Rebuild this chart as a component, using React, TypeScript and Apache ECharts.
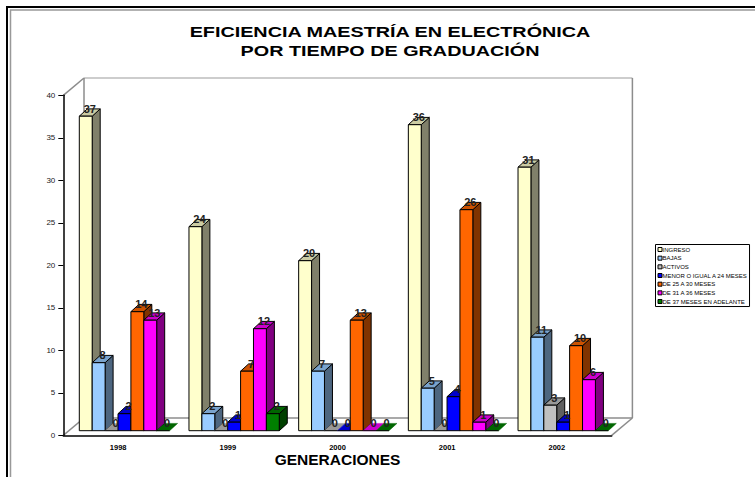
import React, { useEffect, useRef } from "react";
import * as echarts from "echarts";

const titleLines = ["EFICIENCIA MAESTRÍA EN ELECTRÓNICA", "POR TIEMPO DE GRADUACIÓN"];
const generations = ["1998", "1999", "2000", "2001", "2002"];
const seriesNames = [
  "INGRESO",
  "BAJAS",
  "ACTIVOS",
  "MENOR O IGUAL A 24 MESES",
  "DE 25 A 30 MESES",
  "DE 31 A 36 MESES",
  "DE 37 MESES EN ADELANTE",
];
const ingreso = [37, 24, 20, 36, 31];
const bajas = [8, 2, 7, 5, 11];
const activos = [0, 0, 0, 0, 3];
const menor24 = [2, 1, 0, 4, 1];
const de25a30 = [14, 7, 13, 26, 10];
const de31a36 = [13, 12, 0, 1, 6];
const de37 = [0, 2, 0, 0, 0];
const seriesValues = [ingreso, bajas, activos, menor24, de25a30, de31a36, de37];
const yTicks = { min: 0, max: 40, interval: 5 };

const frontColors = ["#FFFFCC", "#99CCFF", "#C0C0C0", "#0000FF", "#FF6600", "#FF00FF", "#008000"];
const sideColors = ["#80806A", "#4D6680", "#606060", "#000080", "#803300", "#800080", "#004000"];
const topColors = ["#CCCCA3", "#7AA3CC", "#999999", "#0000CC", "#CC5200", "#CC00CC", "#006600"];

const FONT = '"Liberation Sans", Arial, sans-serif';
const BAR_W = 12.9;
const BAR_DX = 8;
const BAR_DY = 7.3;
const FLOOR_SHIFT = 4.6;
const GROUP_OFFSET = 16;

const grid = { left: 63.3, top: 95.3, width: 548.4, height: 340 };
const wallDx = 20.7;
const wallDy = 17.3;

export default function App() {
  const ref = useRef<HTMLDivElement>(null);
  useEffect(() => {
    const chart = echarts.init(ref.current!, null, { renderer: "svg" });
    const gl = grid.left;
    const gt = grid.top;
    const gr = gl + grid.width;
    const gb = gt + grid.height;
    const wallLine = (shape: any, stroke = "#8c8c8c") => ({
      type: "line",
      z: 0,
      shape,
      style: { stroke, lineWidth: 1.5 },
      silent: true,
    });
    const titleText = (text: string, y: number) => ({
      type: "text",
      z: 5,
      x: 390,
      y,
      scaleX: 1.32,
      style: {
        text,
        align: "center",
        verticalAlign: "middle",
        fontFamily: FONT,
        fontSize: 15,
        fontWeight: "bold",
        fill: "#000",
      },
      silent: true,
    });
    chart.setOption({
      animation: false,
      backgroundColor: "#fff",
      legend: {
        data: seriesNames,
        orient: "vertical",
        left: 655.5,
        top: 244.5,
        padding: [2, 2, 2, 2],
        itemWidth: 4,
        itemHeight: 4,
        itemGap: 2.67,
        icon: "rect",
        borderColor: "#000",
        borderWidth: 1,
        backgroundColor: "#fff",
        itemStyle: { borderColor: "#000", borderWidth: 1 },
        textStyle: { fontFamily: FONT, fontSize: 6, color: "#000", padding: [0, 0, 0, -4.5] },
      },
      grid: { ...grid, containLabel: false, outerBoundsMode: "none" },
      xAxis: {
        type: "category",
        data: generations,
        name: "GENERACIONES",
        nameLocation: "middle",
        nameGap: 16,
        nameMoveOverlap: false,
        nameTextStyle: { fontFamily: FONT, fontSize: 15.5, fontWeight: "bold", color: "#000" },
        axisLine: { lineStyle: { color: "#000", width: 1.5 } },
        axisTick: { length: 5, lineStyle: { color: "#000", width: 1 } },
        axisLabel: { fontFamily: FONT, fontSize: 7.5, fontWeight: "bold", color: "#000", margin: 8 },
      },
      yAxis: {
        type: "value",
        min: yTicks.min,
        max: yTicks.max,
        interval: yTicks.interval,
        splitLine: { show: false },
        axisLine: { show: true, lineStyle: { color: "#000", width: 1.5 } },
        axisTick: { show: true, length: 5, lineStyle: { color: "#000", width: 1 } },
        axisLabel: { fontFamily: FONT, fontSize: 8, color: "#222", margin: 8 },
      },
      graphic: [
        { type: "rect", z: 0, shape: { x: 7, y: 7, width: 800, height: 500 }, style: { fill: "none", stroke: "#000", lineWidth: 2 }, silent: true },
        { type: "rect", z: 0, shape: { x: 10.5, y: 10, width: 800, height: 500 }, style: { fill: "none", stroke: "#999", lineWidth: 1.5 }, silent: true },
        wallLine({ x1: gl + wallDx, y1: gt - wallDy, x2: gr + wallDx, y2: gt - wallDy }, "#bdbdbd"),
        wallLine({ x1: gl + wallDx, y1: gt - wallDy, x2: gl + wallDx, y2: gb - wallDy }),
        wallLine({ x1: gr + wallDx, y1: gt - wallDy, x2: gr + wallDx, y2: gb - wallDy }),
        wallLine({ x1: gl + wallDx, y1: gb - wallDy, x2: gr + wallDx, y2: gb - wallDy }),
        wallLine({ x1: gl, y1: gt, x2: gl + wallDx, y2: gt - wallDy }),
        wallLine({ x1: gl, y1: gb, x2: gl + wallDx, y2: gb - wallDy }),
        wallLine({ x1: gr, y1: gb, x2: gr + wallDx, y2: gb - wallDy }),
        titleText(titleLines[0], 32),
        titleText(titleLines[1], 51),
      ],
      series: seriesNames.map((name, s) => ({
        type: "custom",
        name,
        z: 3,
        clip: false,
        itemStyle: { color: frontColors[s], borderColor: "#000", borderWidth: 1 },
        encode: { x: 0, y: 1 },
        data: seriesValues[s].map((v, i) => [i, v]),
        renderItem: (_p: any, api: any) => {
          const idx = api.value(0);
          const val = api.value(1);
          const band = api.size([1, 0])[0];
          const base = api.coord([idx, 0]);
          const top = api.coord([idx, val]);
          const x0 = base[0] - band / 2 + GROUP_OFFSET + s * BAR_W;
          const x1 = x0 + BAR_W;
          const yb = base[1] - FLOOR_SHIFT;
          const yt = top[1] - FLOOR_SHIFT;
          const stroke = { stroke: "#000", lineWidth: 1, lineJoin: "round" };
          const children: any[] = [];
          if (val > 0) {
            children.push({
              type: "polygon",
              shape: { points: [[x1, yt], [x1 + BAR_DX, yt - BAR_DY], [x1 + BAR_DX, yb - BAR_DY], [x1, yb]] },
              style: { fill: sideColors[s], ...stroke },
            });
          }
          children.push({
            type: "polygon",
            shape: { points: [[x0, yt], [x0 + BAR_DX, yt - BAR_DY], [x1 + BAR_DX, yt - BAR_DY], [x1, yt]] },
            style: { fill: topColors[s], ...(val > 0 ? stroke : { stroke: topColors[s], lineWidth: 0.5 }) },
          });
          if (val > 0) {
            children.push({
              type: "rect",
              shape: { x: x0, y: yt, width: BAR_W, height: yb - yt },
              style: { fill: frontColors[s], ...stroke },
            });
          } else {
            children.push({
              type: "line",
              shape: { x1: x0, y1: yb, x2: x1, y2: yb },
              style: { stroke: "#000", lineWidth: 1 },
            });
          }
          children.push({
            type: "text",
            z2: 100,
            style: {
              text: String(val),
              x: (x0 + x1) / 2 + BAR_DX / 2,
              y: yt - BAR_DY,
              align: "center",
              verticalAlign: "middle",
              fontFamily: FONT,
              fontSize: 11,
              fontWeight: "bold",
              fill: "#222",
            },
          });
          return { type: "group", children };
        },
      })),
    });
    return () => chart.dispose();
  }, []);
  return <div ref={ref} style={{ position: "fixed", left: 0, top: 0, width: 755, height: 477 }} />;
}
